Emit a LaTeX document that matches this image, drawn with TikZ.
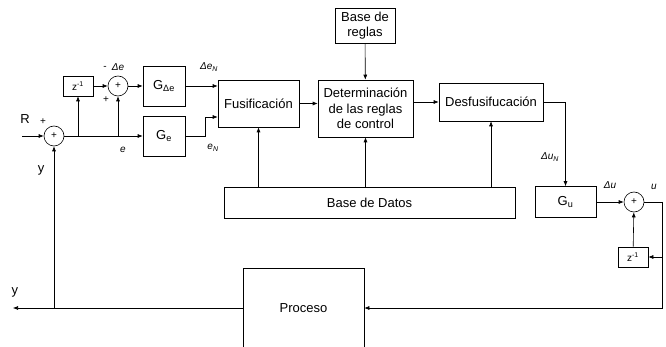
\documentclass[tikz,border=0pt]{standalone}
\usepackage{fontspec}
\setmainfont{Liberation Sans}
\usetikzlibrary{arrows.meta}

\begin{document}
\begin{tikzpicture}[x=1pt,y=-1pt,line width=0.6pt,
		font=\fontsize{13}{15.5}\selectfont,
		bloque/.style={draw,inner sep=0pt,align=center},
		suma/.style={draw,circle,minimum size=20pt,inner sep=0pt,font=\fontsize{10}{10}\selectfont},
		retardo/.style={draw,inner sep=0pt,minimum width=30pt,minimum height=20pt,font=\fontsize{10}{10}\selectfont},
		senal/.style={font=\fontsize{10}{10}\selectfont\itshape},
		signo/.style={font=\fontsize{10}{10}\selectfont},
		flecha/.style={-{Latex[length=5pt,width=4pt]}}]
		\useasboundingbox (0,0) rectangle (666,347);

		% bloques
		\node[suma] (s1) at (54,136) {+};
		\node[retardo] (z1) at (78,86) {z\textsuperscript{-1}};
		\node[suma] (s2) at (118,86) {+};
		\node[bloque,minimum width=42pt,minimum height=40pt] (gde) at (164,86) {G\textsubscript{Δe}};
		\node[bloque,minimum width=42pt,minimum height=40pt] (ge) at (164,136) {G\textsubscript{e}};
		\node[bloque,minimum width=81pt,minimum height=47pt] (fus) at (258.5,103.5) {Fusificación};
		\node[bloque,minimum width=95pt,minimum height=57pt] (det) at (365.5,108.5) {Determinación\\de las reglas\\de control};
		\node[bloque,minimum width=60pt,minimum height=35pt] (reglas) at (365,25.5) {Base de\\reglas};
		\node[bloque,minimum width=104pt,minimum height=38pt] (desf) at (491,102) {Desfusifucación};
		\node[bloque,minimum width=291pt,minimum height=31pt] (datos) at (369.5,202.5) {Base de Datos};
		\node[bloque,minimum width=61pt,minimum height=31pt] (gu) at (565.5,202) {G\textsubscript{u}};
		\node[suma] (s3) at (634,202) {+};
		\node[retardo] (z2) at (633,257) {z\textsuperscript{-1}};
		\node[bloque,minimum width=121pt,minimum height=80pt] (proc) at (303.5,308) {Proceso};

		% puntos libres
		\coordinate (entrada) at (22,136);
		\coordinate (salida) at (13,308);
		\coordinate (codo) at (205,117);
		\coordinate (esquina) at (662,202);

		% conexiones
		\draw[flecha] (entrada) -- (s1);
		\draw[flecha] (s1) -- (ge);
		\draw[flecha] (z1.south |- s1) -- (z1);
		\draw[flecha] (s2 |- s1) -- (s2);
		\draw[flecha] (z1) -- (s2);
		\draw[flecha] (s2) -- (gde);
		\draw[flecha] (gde.east) -- (gde.east -| fus.west);
		\draw[flecha] (ge.east) -| (codo) -- (codo -| fus.west);
		\draw[flecha] (fus) -- (fus -| det.west);
		\draw[flecha] (reglas) -- (det);
		\draw[flecha] (desf.west -| det.east) -- (desf.west);
		\draw[flecha] (desf.east) -| (gu.north);
		\draw[flecha] (datos.north -| fus.south) -- (fus.south);
		\draw[flecha] (datos.north -| det.south) -- (det.south);
		\draw[flecha] (datos.north -| desf.south) -- (desf.south);
		\draw[flecha] (gu) -- (s3);
		\draw (s3) -- (esquina);
		\draw[flecha] (esquina) |- (proc.east);
		\draw[flecha] (esquina |- z2) -- (z2);
		\draw[flecha] (z2) -- (s3);
		\draw[flecha] (proc.west) -- (salida);
		\draw[flecha] (s1 |- proc) -- (s1);

		% etiquetas
		\node (lR) at (25,119) {R};
		\node[signo] (lmas1) at (43,122) {+};
		\node (ly1) at (41,170) {y};
		\node (ly2) at (15,292) {y};
		\node[signo] (lmenos) at (105,68) {-};
		\node[signo] (lmas2) at (106,100) {+};
		\node[senal] (lde) at (118,67) {Δe};
		\node[senal] (le) at (123,150) {e};
		\node[senal] (ldeN) at (209,67) {Δe\textsubscript{N}};
		\node[senal] (leN) at (213,148) {e\textsubscript{N}};
		\node[senal] (lduN) at (550,157) {Δu\textsubscript{N}};
		\node[senal] (ldu) at (610,185) {Δu};
		\node[senal] (lu) at (654,187) {u};
	\end{tikzpicture}
\end{document}
